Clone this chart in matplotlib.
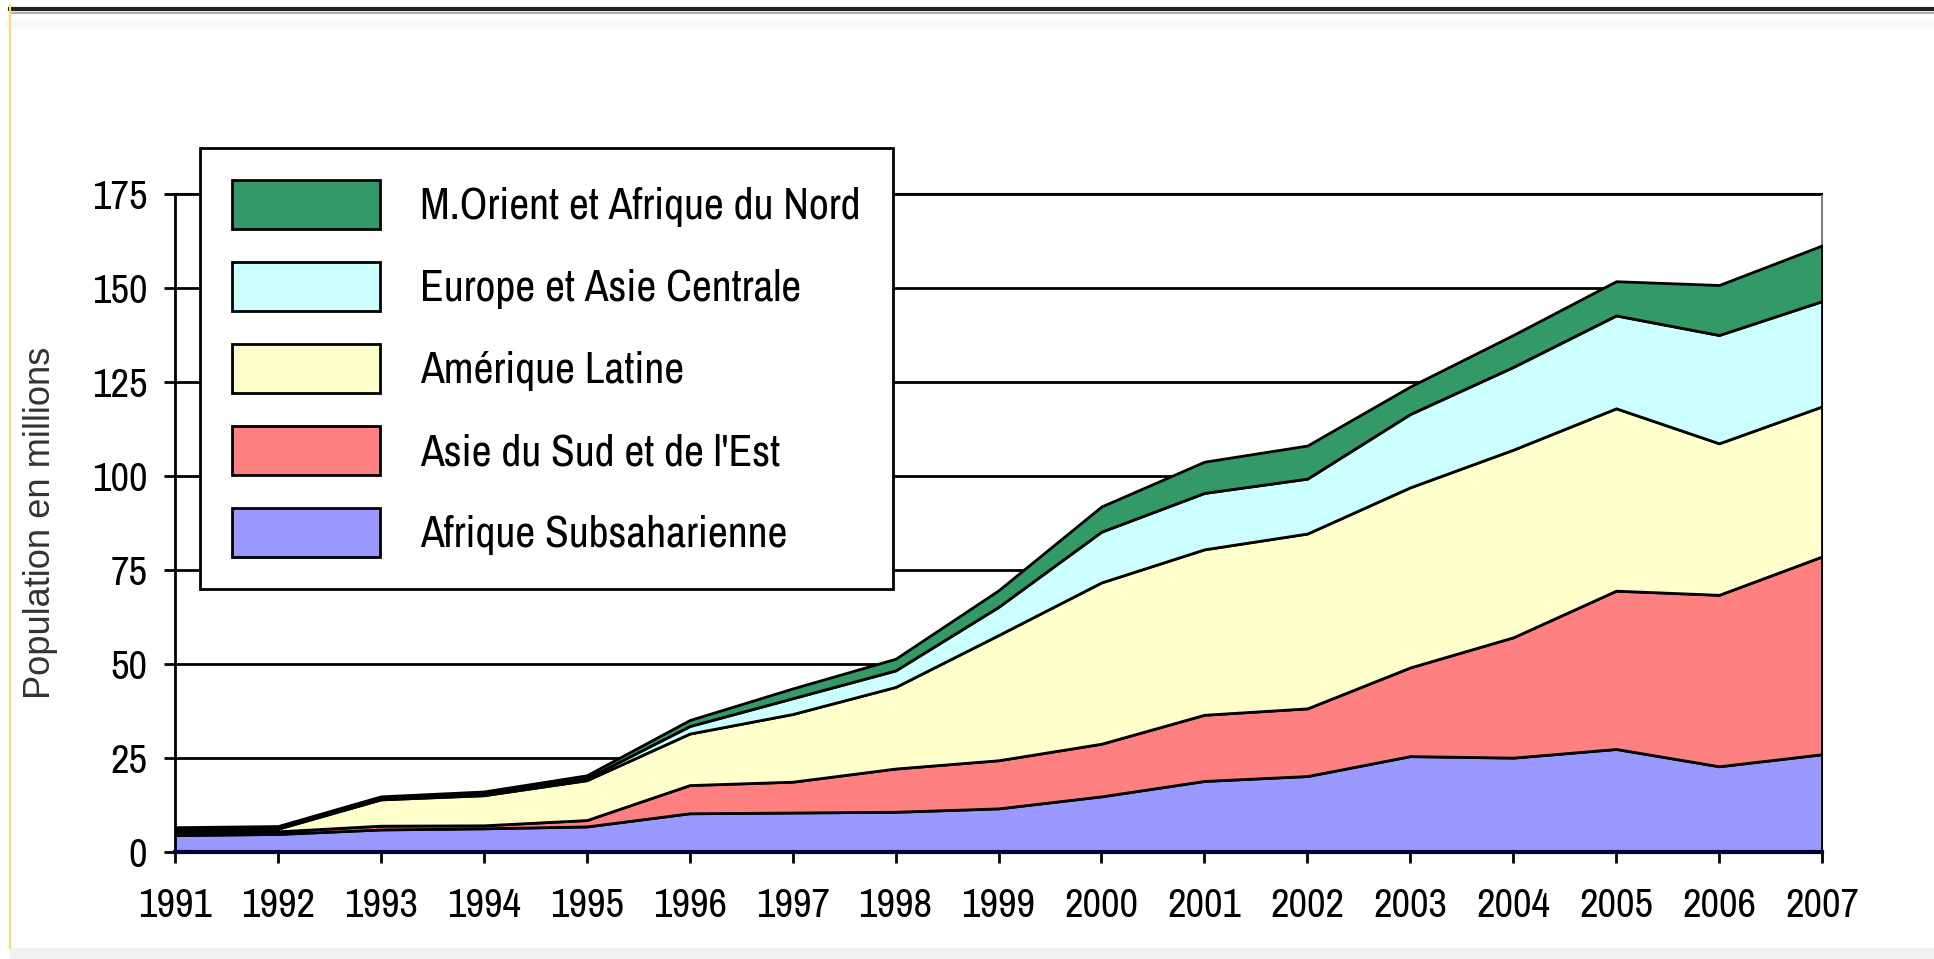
import matplotlib
matplotlib.use('Agg')
import matplotlib.pyplot as plt
from matplotlib.lines import Line2D
from matplotlib.patches import Rectangle

# données (millions)
years = list(range(1991, 2008))
afrique_sub = [4.5, 4.8, 6.0, 6.3, 6.8, 10.3, 10.5, 10.7, 11.6, 14.8, 18.9, 20.2, 25.5, 25.1, 27.4, 22.8, 26.0]
asie_sud_est = [0.8, 0.7, 1.0, 0.8, 1.7, 7.5, 8.2, 11.5, 12.8, 14.0, 17.6, 18.0, 23.6, 32.0, 42.1, 45.6, 52.6]
amerique_lat = [0.6, 0.7, 7.0, 8.0, 10.6, 13.7, 18.0, 21.7, 33.3, 42.9, 44.0, 46.5, 47.9, 49.9, 48.5, 40.3, 39.9]
europe_asie_c = [0.3, 0.3, 0.4, 0.5, 0.5, 2.0, 4.2, 4.4, 7.5, 13.5, 15.0, 14.6, 19.5, 22.0, 24.7, 28.8, 28.0]
mo_afrique_n = [0.4, 0.4, 0.4, 0.5, 0.8, 1.6, 2.6, 3.1, 4.4, 6.7, 8.3, 8.8, 7.3, 8.5, 9.1, 13.3, 14.8]

labels = ['Afrique Subsaharienne', "Asie du Sud et de l'Est", 'Amérique Latine',
          'Europe et Asie Centrale', 'M.Orient et Afrique du Nord']
colors = ['#9999FF', '#FF8080', '#FFFFCC', '#CCFFFF', '#339966']

NARROW = ['Archivo Narrow', 'Liberation Sans', 'DejaVu Sans']
REG = ['Liberation Sans', 'DejaVu Sans']
plt.rcParams['font.family'] = NARROW

W, H = 1934, 959
fig = plt.figure(figsize=(W / 100, H / 100), dpi=100)
rend = fig.canvas.get_renderer()


def fit(s, target_px, family, rot=0):
    # taille de police pour qu'un texte fasse target_px de long
    t = fig.text(0, 0, s, fontsize=20, family=family, rotation=rot)
    bb = t.get_window_extent(rend)
    t.remove()
    return 20 * target_px / (bb.height if rot else bb.width)


tick_fs = fit('1991', 74, NARROW)
leg_fs = fit(labels[-1], 440, NARROW)
ylab_fs = fit('Population en millions', 352, REG, rot=90)

ax = fig.add_axes([175 / W, 107 / H, 1647 / W, 658 / H])

ax.stackplot(years, afrique_sub, asie_sud_est, amerique_lat, europe_asie_c, mo_afrique_n,
             labels=labels, colors=colors, edgecolor='black', linewidth=2, zorder=3)

ax.set_xlim(1991, 2007)
ax.set_ylim(0, 175)
ax.set_xticks(years)
ax.set_yticks(range(0, 176, 25))
ax.yaxis.grid(True, color='black', lw=2)
ax.set_axisbelow(True)

ax.spines['top'].set_color('black')
ax.spines['top'].set_linewidth(1.5)
ax.spines['right'].set_color('#808080')
ax.spines['right'].set_linewidth(1.5)
ax.spines['left'].set_linewidth(2)
ax.spines['bottom'].set_color('#000033')
ax.spines['bottom'].set_linewidth(3)
ax.spines['bottom'].set_zorder(5)

ax.tick_params(axis='both', direction='out', length=8, width=2, labelsize=tick_fs)
ax.tick_params(axis='y', pad=12)
ax.tick_params(axis='x', pad=17)
ax.set_ylabel('Population en millions', fontsize=ylab_fs, family=REG,
              color='#333333', labelpad=24)

# légende : tailles en pixels converties en unités de police
fpx = leg_fs * 100 / 72
t = fig.text(0, 0, labels[-1], fontsize=leg_fs)
text_h = t.get_window_extent(rend).height
t.remove()
patch_px = 49
hh = (patch_px / fpx - 0.245) / 0.65
row = max(patch_px, text_h)
h, l = ax.get_legend_handles_labels()
leg = ax.legend(h[::-1], l[::-1], loc='upper left',
                bbox_to_anchor=((200 - 175) / 1647, (852 - 148) / 658),
                borderaxespad=0, fontsize=leg_fs, handlelength=148 / fpx, handleheight=hh,
                labelspacing=(82 - row) / fpx, handletextpad=40 / fpx, borderpad=32 / fpx,
                fancybox=False, framealpha=1, edgecolor='black')
leg.get_frame().set_linewidth(2)
leg.set_zorder(10)

# cadre de la page
fig.add_artist(Line2D([10 / W, 1], [1 - 9 / H] * 2, color='#222222', lw=3))
fig.add_artist(Line2D([10 / W, 1], [1 - 13 / H] * 2, color='#b0b0b0', lw=1.5))
fig.add_artist(Line2D([10 / W, 1], [1 - 24 / H] * 2, color='#f7f7f7', lw=6))
fig.add_artist(Line2D([10 / W] * 2, [1 - 5 / H, 1 - 948 / H], color='#FFD966', lw=1.5))
fig.add_artist(Rectangle((10 / W, 0), 1, 11 / H, color='#F0F0F0', transform=fig.transFigure))

plt.savefig('out.png', dpi=100)
